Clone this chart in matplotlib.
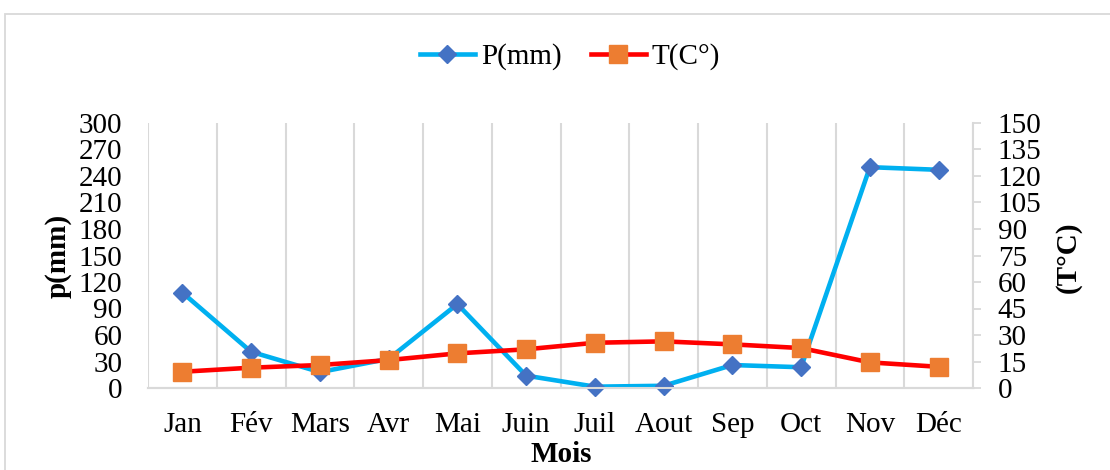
import matplotlib
matplotlib.use("Agg")
import matplotlib.pyplot as plt
from matplotlib.lines import Line2D
from matplotlib.patches import Rectangle
import numpy as np

# Monthly climate data
months = ["Jan", "Fév", "Mars", "Avr", "Mai", "Juin", "Juil", "Aout",
          "Sep", "Oct", "Nov", "Déc"]
precip_mm = [108, 41, 18, 33, 95, 14, 1.5, 2.5, 26, 23.5, 250, 247]
temp_c = [9.2, 11.5, 13, 15.8, 19.6, 21.9, 25.6, 26.4, 24.7, 22.6, 14.5, 12]

p_ticks = list(range(0, 301, 30))
t_ticks = list(range(0, 151, 15))

FONT = "Liberation Serif"
FS = 21
plt.rcParams["font.family"] = [FONT, "DejaVu Serif"]

W, H = 1110, 470
fig = plt.figure(figsize=(W / 100, H / 100), dpi=100)

# outer chart frame
fig.patches.append(Rectangle((5 / W, -0.05), 1.2, 1.05 - 14 / H,
                             transform=fig.transFigure, facecolor="none",
                             edgecolor="#D9D9D9", lw=1.3, zorder=0))

left, right, top, bottom = 148 / W, 973 / W, 1 - 123 / H, 1 - 388 / H
ax = fig.add_axes([left, bottom, right - left, top - bottom])
ax2 = ax.twinx()

x = np.arange(len(months))
grid_col = "#D9D9D9"

ax.set_xlim(-0.5, len(months) - 0.5)
ax.set_ylim(0, 300)
ax2.set_ylim(0, 150)

ax.set_xticks(x)
ax.set_xticklabels(months, fontsize=FS)
ax.set_xticks(np.arange(-0.5, len(months), 1), minor=True)
ax.grid(True, which="minor", axis="x", color=grid_col, lw=1.5)
ax.tick_params(axis="x", which="major", length=0, pad=17)
ax.tick_params(axis="x", which="minor", length=0)

ax.set_yticks(p_ticks)
ax.set_yticklabels([str(v) for v in p_ticks], fontsize=FS)
ax.tick_params(axis="y", length=0, pad=18.5)

ax2.set_yticks(t_ticks)
ax2.set_yticklabels([str(v) for v in t_ticks], fontsize=FS)
ax2.tick_params(axis="y", length=5.8, width=1.3, color=grid_col, pad=12)

for a in (ax, ax2):
    for s in ("top", "left"):
        a.spines[s].set_visible(False)
    a.spines["bottom"].set_color(grid_col)
    a.spines["bottom"].set_linewidth(1.5)
    a.spines["right"].set_visible(False)
ax2.spines["right"].set_visible(True)
ax2.spines["right"].set_color(grid_col)
ax2.spines["right"].set_linewidth(1.5)

p_line_col, p_mark_col = "#00B0F0", "#4472C4"
t_line_col, t_mark_col = "#FF0000", "#ED7D31"

ax.plot(x, precip_mm, color=p_line_col, lw=3.3, marker="D", ms=9,
        mfc=p_mark_col, mec=p_mark_col, zorder=3, clip_on=False)
ax2.plot(x, temp_c, color=t_line_col, lw=3.3, marker="s", ms=13,
         mfc=t_mark_col, mec=t_mark_col, zorder=4, clip_on=False)

fig.text(58 / W, 1 - 256 / H, "p(mm)", rotation=90, ha="center", va="center",
         fontsize=FS, fontweight="bold")
fig.text(1068 / W, 1 - 257 / H, "(T°C)", rotation=90, ha="center", va="center",
         fontsize=FS, fontweight="bold")
fig.text(561 / W, 1 - 455 / H, "Mois", ha="center", va="center",
         fontsize=FS, fontweight="bold")

handles = [
    Line2D([], [], color=p_line_col, lw=3.3, marker="D", ms=9,
           mfc=p_mark_col, mec=p_mark_col),
    Line2D([], [], color=t_line_col, lw=3.3, marker="s", ms=13,
           mfc=t_mark_col, mec=t_mark_col),
]
fig.legend(handles, ["P(mm)", "T(C°)"], loc="center",
           bbox_to_anchor=(570 / W, 1 - 57 / H), ncol=2, frameon=False,
           fontsize=FS, handlelength=1.9, handletextpad=0.2,
           columnspacing=1.0)

fig.savefig("out.png", dpi=100)
